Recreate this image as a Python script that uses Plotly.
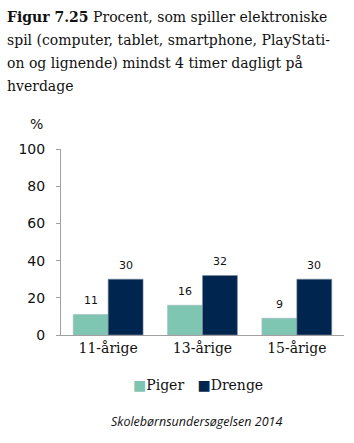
import plotly.graph_objects as go

categories = ["11-årige", "13-årige", "15-årige"]
series_names = ["Piger", "Drenge"]
piger = [11, 16, 9]
drenge = [30, 32, 30]
yticks = [0, 20, 40, 60, 80, 100]

c_piger = "#7fc6b2"
c_drenge = "#00264f"

W, H = 354, 443
L, R, T, B = 61, 10, 149, 108
pw, ph = W - L - R, H - T - B

def px_x(p):
    return (p - L) / pw

def px_y(p):
    return 1 - (p - T) / ph

fig = go.Figure()
fig.add_bar(name=series_names[0], x=categories, y=piger,
            marker=dict(color=c_piger, line=dict(color="#a0b8c0", width=0.6)))
fig.add_bar(name=series_names[1], x=categories, y=drenge,
            marker=dict(color=c_drenge, line=dict(color="#7d8fa0", width=0.6)))

for vals, shift in ((piger, -17.5), (drenge, 17.5)):
    for c, v in zip(categories, vals):
        fig.add_annotation(x=c, y=v, xref="x", yref="y", text=str(v), showarrow=False,
                           xshift=shift, yshift=14, font=dict(family="DejaVu Sans", size=11, color="#111"))

title_lines = ["<b>Figur 7.25</b> Procent, som spiller elektroniske",
               "spil (computer, tablet, smartphone, PlayStati-",
               "on og lignende) mindst 4 timer dagligt på",
               "hverdage"]
for i, t in enumerate(title_lines):
    fig.add_annotation(x=px_x(5), y=px_y(17 + 23 * i), xref="paper", yref="paper", text=t, showarrow=False,
                       xanchor="left", yanchor="middle", font=dict(family="DejaVu Serif", size=14, color="#111"))

fig.add_annotation(x=px_x(36), y=px_y(124), xref="paper", yref="paper", text="%", showarrow=False,
                   xanchor="center", yanchor="middle",
                   font=dict(family="DejaVu Sans", size=14, color="#111"))

legend_text = (f"<span style='color:{c_piger}'>■</span>{series_names[0]}"
               f"&nbsp;&nbsp;&nbsp;<span style='color:{c_drenge}'>■</span>{series_names[1]}")
fig.add_annotation(x=px_x(198), y=px_y(385), xref="paper", yref="paper", text=legend_text, showarrow=False,
                   xanchor="center", yanchor="middle",
                   font=dict(family="DejaVu Serif", size=14, color="#111"))

fig.add_annotation(x=px_x(196), y=px_y(421), xref="paper", yref="paper",
                   text="<i>Skolebørnsundersøgelsen 2014</i>", showarrow=False,
                   xanchor="center", yanchor="middle", font=dict(family="Open Sans", size=12.5, color="#111"))

fig.update_layout(
    width=W, height=H, margin=dict(l=L, r=R, t=T, b=B),
    paper_bgcolor="white", plot_bgcolor="white",
    barmode="group", bargap=0.26, bargroupgap=0,
    showlegend=False,
    xaxis=dict(showline=True, linecolor="#a0a0a0", linewidth=1, ticks="", showgrid=False,
               tickfont=dict(family="DejaVu Serif", size=14, color="#111"), range=[-0.5, 2.5]),
    yaxis=dict(range=[0, 100], tickvals=yticks, showline=True, linecolor="#a0a0a0", linewidth=1,
               ticks="outside", ticklen=4, tickcolor="#a0a0a0", showgrid=False, zeroline=False,
               tickfont=dict(family="DejaVu Sans", size=14, color="#111"), ticklabelstandoff=8),
)

fig.write_html("out.html")
